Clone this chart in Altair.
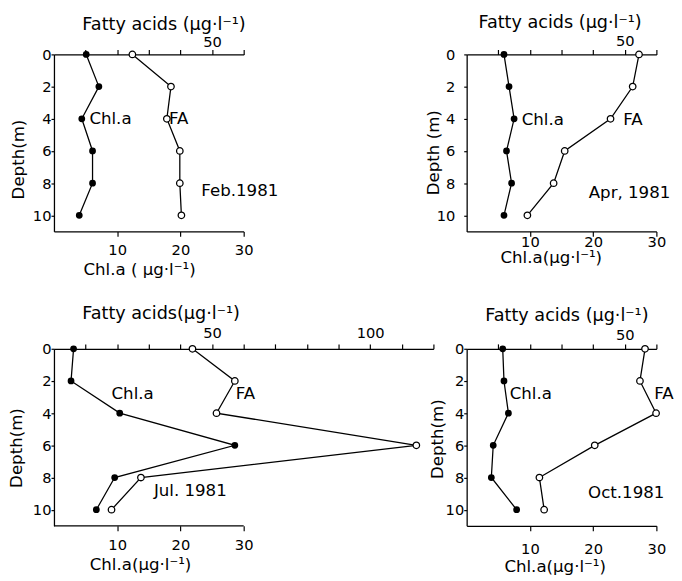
import altair as alt
import pandas as pd

FONT = "DejaVu Sans"

depths = [0, 2, 4, 6, 8, 10]
feb_chl = [5.1, 7.1, 4.4, 6.1, 6.1, 4.0]
feb_fa = [24.8, 37.0, 35.7, 39.8, 39.8, 40.3]
apr_chl = [5.9, 6.7, 7.5, 6.3, 7.1, 5.9]
apr_fa = [54.5, 52.5, 45.5, 31.0, 27.5, 19.2]
jul_chl = [3.1, 2.7, 10.4, 28.6, 9.6, 6.7]
jul_fa = [43.8, 57.2, 51.4, 114.6, 27.5, 18.2]
oct_chl = [5.7, 5.9, 6.6, 4.2, 3.9, 7.9]
oct_fa = [56.4, 54.8, 59.9, 40.5, 23.0, 24.5]

month_labels = ["Feb.1981", "Apr, 1981", "Jul. 1981", "Oct.1981"]
month_chl = [23.3, 19.3, 15.8, 19.2]
month_depth = [8.5, 8.6, 8.85, 8.95]
chl_text_chl = [5.6, 8.7, 9.1, 6.8]
chl_text_depth = [4.0, 4.1, 2.8, 2.8]
fa_text_fa = [36.4, 49.5, 57.5, 59.3]
fa_text_depth = [4.0, 4.1, 2.8, 2.8]

top_titles = ["Fatty acids (µg·l⁻¹)", "Fatty acids (µg·l⁻¹)", "Fatty acids(µg·l⁻¹)", "Fatty acids (µg·l⁻¹)"]
bottom_titles = ["Chl.a ( µg·l⁻¹)", "Chl.a(µg·l⁻¹)", "Chl.a(µg·l⁻¹)", "Chl.a(µg·l⁻¹)"]
y_titles = ["Depth(m)", "Depth (m)", "Depth(m)", "Depth(m)"]
chl_ticks = [10, 20, 30]
y_ticks = [0, 2, 4, 6, 8, 10]

chl_max = [30, 30, 60, 30]
fa_max = [60, 60, 120, 60]
widths = [194, 194, 388, 194]
HEIGHT = 181

top_title_x = [112, 95, 109, 102]
top_title_y = [-25, -27, -31, -29]
top_label_pad = [3, 4, 7, 4]
bot_title_x = [87, 86, 88, 90]
bot_title_y = [44, 32, 45, 47]
bot_label_pad = [19, 10, 19, 23]
y_title_x = [-36, -34, -38, -30]
y_title_y = [107, 100, 101, 92]
y_label_pad = [0, 9, 0, 0]

series = [(feb_chl, feb_fa), (apr_chl, apr_fa), (jul_chl, jul_fa), (oct_chl, oct_fa)]


def panel(i):
    chl, fa = series[i]
    df = pd.DataFrame({"depth": depths, "chl": chl, "fa": fa})
    xc = alt.X(
        "chl:Q",
        scale=alt.Scale(domain=[0, chl_max[i]], nice=False, zero=True),
        axis=alt.Axis(
            values=chl_ticks, title=bottom_titles[i], orient="bottom",
            domain=(chl_max[i] == 30), labelBaseline="alphabetic",
            labelPadding=bot_label_pad[i], tickSize=5,
            titleX=bot_title_x[i], titleY=bot_title_y[i],
            titleAlign="center", titleBaseline="alphabetic",
        ),
    )
    xf = alt.X(
        "fa:Q",
        scale=alt.Scale(domain=[0, fa_max[i]], nice=False, zero=True),
        axis=alt.Axis(
            values=list(range(10, fa_max[i] + 1, 10)), orient="top",
            title=top_titles[i], titleFontSize=18,
            labelExpr="datum.value == 50 || datum.value == 100 ? datum.label : ''",
            labelBaseline="alphabetic", labelPadding=top_label_pad[i], tickSize=5,
            titleX=top_title_x[i], titleY=top_title_y[i],
            titleAlign="center", titleBaseline="alphabetic",
        ),
    )
    y = alt.Y(
        "depth:Q",
        scale=alt.Scale(domain=[0, 11], reverse=True, nice=False, zero=True),
        axis=alt.Axis(
            values=y_ticks, title=y_titles[i], tickSize=3,
            labelPadding=y_label_pad[i], labelBaseline="middle",
            titleX=y_title_x[i], titleY=y_title_y[i], titleAngle=270,
            titleAlign="center", titleBaseline="middle",
        ),
    )
    base = alt.Chart(df)
    chl_line = base.mark_line(color="black", strokeWidth=1.3).encode(
        x=xc, y=y, order=alt.Order("depth:Q"))
    chl_pts = base.mark_point(filled=True, shape="circle", size=48, color="black",
                              opacity=1).encode(x=xc, y=y)
    chl_lbl = alt.Chart(pd.DataFrame({"chl": [chl_text_chl[i]], "depth": [chl_text_depth[i]],
                                      "t": ["Chl.a"]})).mark_text(
        align="left", baseline="middle", font=FONT, fontSize=17, color="black"
    ).encode(x=xc, y=y, text="t:N")
    mon_lbl = alt.Chart(pd.DataFrame({"chl": [month_chl[i]], "depth": [month_depth[i]],
                                      "t": [month_labels[i]]})).mark_text(
        align="left", baseline="middle", font=FONT, fontSize=17, color="black"
    ).encode(x=xc, y=y, text="t:N")
    left_layers = [chl_line, chl_pts, chl_lbl, mon_lbl]
    if chl_max[i] != 30:
        rule = alt.Chart(pd.DataFrame({"chl": [0], "chl2": [30], "depth": [11]})).mark_rule(
            color="black", strokeWidth=1.3).encode(x=xc, x2="chl2:Q", y=y)
        left_layers.append(rule)
    left = alt.layer(*left_layers)

    fa_line = base.mark_line(color="black", strokeWidth=1.3).encode(
        x=xf, y=y, order=alt.Order("depth:Q"))
    fa_pts = base.mark_point(filled=True, shape="circle", size=44, fill="white",
                             stroke="black", strokeWidth=1.3, opacity=1).encode(x=xf, y=y)
    fa_lbl = alt.Chart(pd.DataFrame({"fa": [fa_text_fa[i]], "depth": [fa_text_depth[i]],
                                     "t": ["FA"]})).mark_text(
        align="left", baseline="middle", font=FONT, fontSize=17, color="black"
    ).encode(x=xf, y=y, text="t:N")
    right = alt.layer(fa_line, fa_pts, fa_lbl)
    return alt.layer(left, right).resolve_scale(x="independent").properties(
        width=widths[i], height=HEIGHT)


chart = alt.concat(
    panel(0), panel(1), panel(2), panel(3),
    columns=2, spacing={"row": 120, "column": 34}, bounds="flush",
).properties(
    padding={"left": 0, "top": 0, "right": 0, "bottom": 0}, background="white"
).configure_view(stroke=None).configure_axis(
    labelFont=FONT, labelFontSize=15, labelColor="black",
    titleFont=FONT, titleFontSize=17, titleColor="black", titleFontWeight="normal",
    domainColor="black", domainWidth=1.3, tickColor="black", tickWidth=1.2,
    grid=False, labelFlush=False, labelOverlap=False,
)

chart.save("out.html", embed_options={"renderer": "svg", "actions": False})
